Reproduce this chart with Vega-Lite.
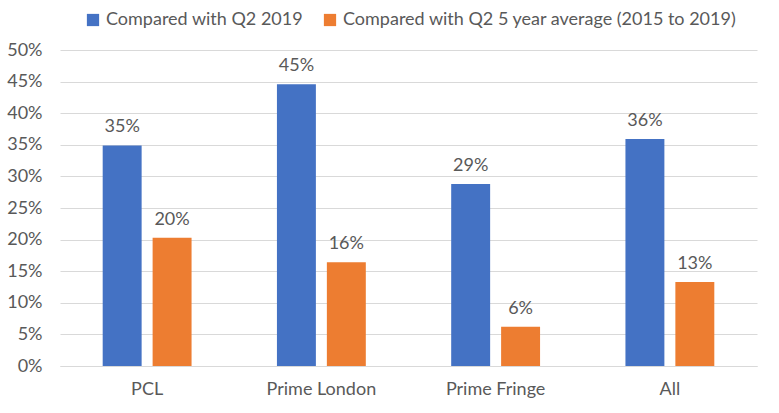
{
  "$schema": "https://vega.github.io/schema/vega-lite/v6.json",
  "width": 697,
  "height": 316,
  "autosize": {"type": "none"},
  "padding": {"left": 60, "top": 50, "right": 22, "bottom": 47},
  "background": "white",
  "config": {
    "font": "Lato",
    "view": {"stroke": null},
    "axis": {"labelFont": "Lato", "labelColor": "#595959", "labelFontSize": 18, "ticks": false, "title": null, "labelOverlap": false}
  },
  "data": {
    "values": [
      {"region": "PCL", "series": "Compared with Q2 2019", "value": 0.349, "label": "35%"},
      {"region": "PCL", "series": "Compared with Q2 5 year average (2015 to 2019)", "value": 0.203, "label": "20%"},
      {"region": "Prime London", "series": "Compared with Q2 2019", "value": 0.446, "label": "45%"},
      {"region": "Prime London", "series": "Compared with Q2 5 year average (2015 to 2019)", "value": 0.164, "label": "16%"},
      {"region": "Prime Fringe", "series": "Compared with Q2 2019", "value": 0.288, "label": "29%"},
      {"region": "Prime Fringe", "series": "Compared with Q2 5 year average (2015 to 2019)", "value": 0.062, "label": "6%"},
      {"region": "All", "series": "Compared with Q2 2019", "value": 0.359, "label": "36%"},
      {"region": "All", "series": "Compared with Q2 5 year average (2015 to 2019)", "value": 0.133, "label": "13%"}
    ]
  },
  "encoding": {
    "x": {
      "field": "region", "type": "nominal", "sort": null,
      "scale": {"paddingInner": 0.49, "paddingOuter": 0.245},
      "axis": {"labelAngle": 0, "labelPadding": 14, "domainColor": "#d9d9d9", "grid": false}
    },
    "xOffset": {
      "field": "series", "type": "nominal", "sort": null,
      "scale": {"paddingInner": 0.22, "paddingOuter": 0}
    },
    "y": {
      "field": "value", "type": "quantitative",
      "scale": {"domain": [0, 0.5], "nice": false},
      "axis": {"format": ".0%", "values": [0, 0.05, 0.1, 0.15, 0.2, 0.25, 0.3, 0.35, 0.4, 0.45, 0.5], "domain": false, "grid": true, "gridColor": "#d9d9d9", "labelPadding": 18}
    }
  },
  "layer": [
    {
      "mark": {"type": "bar"},
      "encoding": {
        "color": {
          "field": "series", "type": "nominal", "sort": null,
          "scale": {"range": ["#4472C4", "#ED7D31"]},
          "legend": {
            "title": null, "orient": "none", "legendX": 24, "legendY": -39,
            "direction": "horizontal", "symbolType": "square", "symbolSize": 150,
            "symbolStrokeWidth": 0, "symbolOpacity": 1,
            "labelFontSize": 18, "labelColor": "#595959", "labelFont": "Lato",
            "columnPadding": 17, "labelOffset": 4, "labelLimit": 500
          }
        }
      }
    },
    {
      "mark": {"type": "text", "baseline": "bottom", "dy": -9, "fontSize": 18, "color": "#595959", "font": "Lato"},
      "encoding": {"text": {"field": "label"}}
    }
  ]
}
